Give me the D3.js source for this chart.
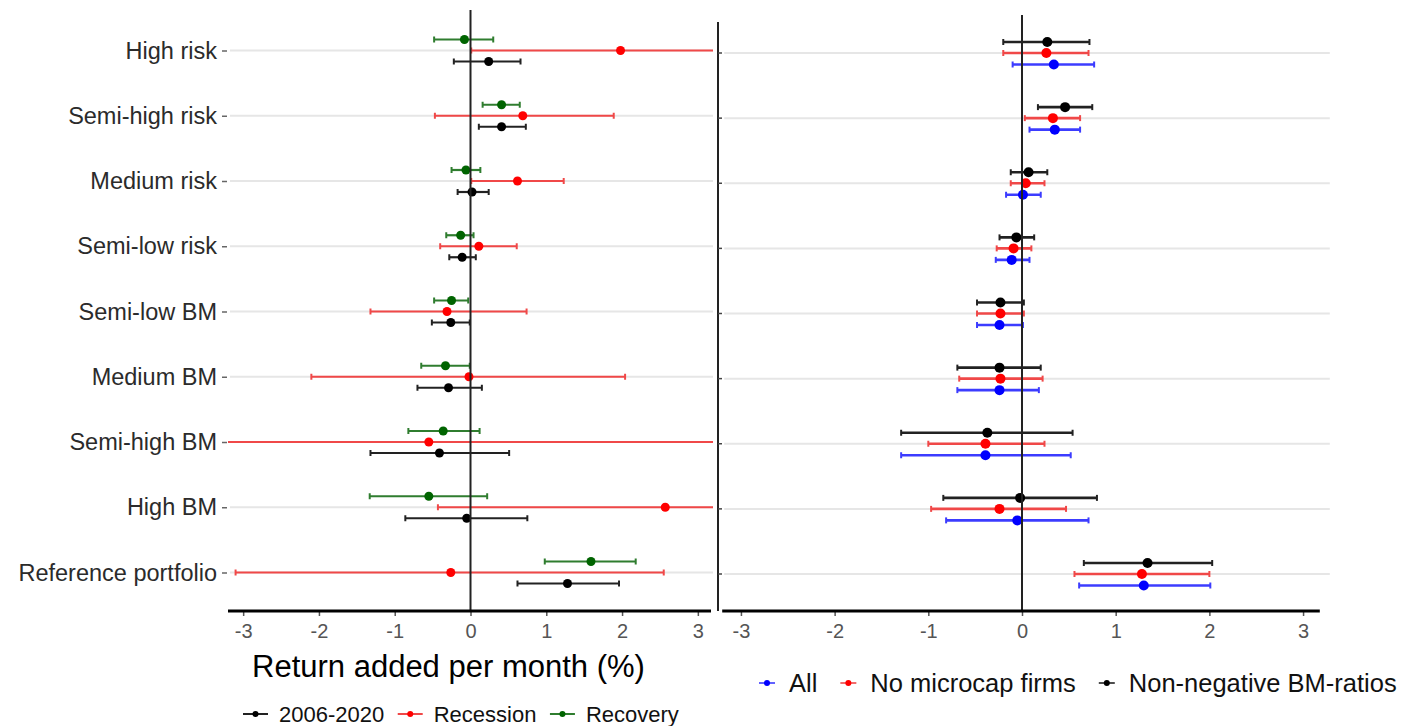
<!DOCTYPE html>
<html>
<head>
<meta charset="utf-8">
<script src="https://cdn.jsdelivr.net/npm/d3@7"></script>
<style>
  body { margin: 0; background: #fff; }
  svg { display: block; font-family: "Liberation Sans", Arial, sans-serif; }
</style>
</head>
<body>
<div id="chart"></div>
<script>
// portfolios, top to bottom
const categories = ["High risk", "Semi-high risk", "Medium risk", "Semi-low risk",
  "Semi-low BM", "Medium BM", "Semi-high BM", "High BM", "Reference portfolio"];
const ticks = [-3, -2, -1, 0, 1, 2, 3];

// left panel: periods
const fullEst = [0.24, 0.41, 0.02, -0.11, -0.26, -0.29, -0.41, -0.05, 1.28];
const fullLo  = [-0.22, 0.11, -0.17, -0.28, -0.51, -0.70, -1.32, -0.86, 0.62];
const fullHi  = [0.66, 0.73, 0.24, 0.07, -0.01, 0.15, 0.51, 0.75, 1.96];

const recEst = [1.98, 0.69, 0.62, 0.11, -0.31, -0.02, -0.55, 2.57, -0.26];
const recLo  = [0.01, -0.47, 0.01, -0.40, -1.32, -2.10, -4.40, -0.43, -3.10];
const recHi  = [3.95, 1.89, 1.23, 0.61, 0.74, 2.04, 3.30, 5.60, 2.55];

const recovEst = [-0.08, 0.41, -0.06, -0.13, -0.25, -0.33, -0.36, -0.55, 1.59];
const recovLo  = [-0.48, 0.16, -0.25, -0.32, -0.48, -0.65, -0.82, -1.33, 0.98];
const recovHi  = [0.30, 0.65, 0.13, 0.04, -0.03, -0.01, 0.12, 0.22, 2.18];

// right panel: samples
const allEst = [0.34, 0.35, 0.01, -0.11, -0.24, -0.24, -0.39, -0.05, 1.30];
const allLo  = [-0.10, 0.08, -0.17, -0.28, -0.48, -0.69, -1.29, -0.81, 0.61];
const allHi  = [0.77, 0.62, 0.20, 0.08, 0.01, 0.18, 0.52, 0.71, 2.01];

const noMicroEst = [0.26, 0.33, 0.04, -0.09, -0.23, -0.23, -0.39, -0.24, 1.28];
const noMicroLo  = [-0.20, 0.03, -0.12, -0.27, -0.48, -0.67, -1.00, -0.97, 0.56];
const noMicroHi  = [0.71, 0.62, 0.24, 0.10, 0.02, 0.22, 0.24, 0.47, 2.00];

const nonNegEst = [0.27, 0.46, 0.07, -0.06, -0.23, -0.24, -0.37, -0.02, 1.34];
const nonNegLo  = [-0.20, 0.17, -0.12, -0.24, -0.48, -0.69, -1.29, -0.84, 0.66];
const nonNegHi  = [0.72, 0.75, 0.27, 0.13, 0.02, 0.20, 0.54, 0.80, 2.03];

const leftSeries = [
  { name: "2006-2020", est: fullEst, lo: fullLo, hi: fullHi, color: "#000000", bar: "#222222", dy: 11 },
  { name: "Recession", est: recEst, lo: recLo, hi: recHi, color: "#ff0000", bar: "#f04848", dy: 0 },
  { name: "Recovery", est: recovEst, lo: recovLo, hi: recovHi, color: "#006400", bar: "#2f7d2f", dy: -11 }
];
const rightSeries = [
  { name: "All", est: allEst, lo: allLo, hi: allHi, color: "#0000ff", bar: "#3c3cff", dy: 11.5 },
  { name: "No microcap firms", est: noMicroEst, lo: noMicroLo, hi: noMicroHi, color: "#ff0000", bar: "#f04848", dy: 0 },
  { name: "Non-negative BM-ratios", est: nonNegEst, lo: nonNegLo, hi: nonNegHi, color: "#000000", bar: "#222222", dy: -11 }
];

const width = 1416, height = 726;
const svg = d3.select("#chart").append("svg").attr("width", width).attr("height", height);

function drawPanel(id, series, x, y, opts) {
  const g = svg.append("g");
  const [x0, x1] = x.range();
  const axisY = 611;

  g.append("clipPath").attr("id", id)
    .append("rect").attr("x", x0).attr("y", 0).attr("width", x1 - x0).attr("height", axisY);

  // horizontal grid
  g.selectAll(".grid").data(categories).enter().append("line")
    .attr("x1", x0 + 2).attr("x2", x1 + opts.gridExtra)
    .attr("y1", d => y(d)).attr("y2", d => y(d))
    .attr("stroke", "#e6e6e6").attr("stroke-width", 2);

  const plot = g.append("g").attr("clip-path", `url(#${id})`);

  series.forEach(s => {
    const rows = categories.map((c, i) => ({ c, est: s.est[i], lo: s.lo[i], hi: s.hi[i] }));
    const sg = plot.append("g");
    sg.selectAll(".bar").data(rows).enter().append("line")
      .attr("x1", d => x(d.lo)).attr("x2", d => x(d.hi))
      .attr("y1", d => y(d.c) + s.dy).attr("y2", d => y(d.c) + s.dy)
      .attr("stroke", s.bar).attr("stroke-width", opts.barW);
    ["lo", "hi"].forEach(k => {
      sg.selectAll(".cap-" + k).data(rows).enter().append("line")
        .attr("x1", d => x(d[k])).attr("x2", d => x(d[k]))
        .attr("y1", d => y(d.c) + s.dy - 3).attr("y2", d => y(d.c) + s.dy + 3)
        .attr("stroke", s.bar).attr("stroke-width", 2);
    });
  });

  // zero line
  g.append("line")
    .attr("x1", x(0)).attr("x2", x(0)).attr("y1", opts.zeroTop).attr("y2", axisY)
    .attr("stroke", "#222").attr("stroke-width", 2);

  series.forEach(s => {
    plot.append("g").selectAll("circle")
      .data(categories.map((c, i) => ({ c, est: s.est[i] })))
      .enter().append("circle")
      .attr("cx", d => x(d.est)).attr("cy", d => y(d.c) + s.dy)
      .attr("r", opts.r).attr("fill", s.color);
  });

  // x axis
  const ax = g.append("g").attr("transform", `translate(0,${axisY})`)
    .call(d3.axisBottom(x).tickValues(ticks).tickFormat(d => String(d)).tickSize(5).tickPadding(8));
  ax.select(".domain").remove();
  ax.selectAll(".tick line").attr("stroke", "#555").attr("stroke-width", 1.5);
  ax.selectAll(".tick text").attr("fill", "#555").attr("font-size", 20)
    .attr("font-family", "Liberation Sans, Arial, sans-serif");
  g.append("line").attr("x1", x0).attr("x2", x1 - 2).attr("y1", axisY).attr("y2", axisY)
    .attr("stroke", "#000").attr("stroke-width", 3);
  return g;
}

const xL = d3.scaleLinear().domain([-3.2, 3.2]).range([228, 713]);
const yL = d3.scalePoint().domain(categories).range([50.5, 572.5]);
const xR = d3.scaleLinear().domain([-3.2, 3.2]).range([722.2, 1321.8]);
const yR = d3.scalePoint().domain(categories).range([53, 574]);

drawPanel("clipL", leftSeries, xL, yL, { zeroTop: 10, gridExtra: 0, r: 4.5, barW: 2.2 });
drawPanel("clipR", rightSeries, xR, yR, { zeroTop: 15, gridExtra: 8, r: 5, barW: 2.6 });

// left y axis labels
const ayL = svg.append("g").attr("transform", "translate(227,0)")
  .call(d3.axisLeft(yL).tickSize(5).tickPadding(5));
ayL.select(".domain").remove();
ayL.selectAll(".tick line").attr("stroke", "#666").attr("stroke-width", 1.5);
ayL.selectAll(".tick text").attr("fill", "#2b2b2b").attr("font-size", 23.5)
  .attr("font-family", "Liberation Sans, Arial, sans-serif");

// right panel y axis line and ticks
svg.append("line").attr("x1", 718).attr("x2", 718).attr("y1", 22).attr("y2", 611)
  .attr("stroke", "#222").attr("stroke-width", 2);
svg.append("g").selectAll("line").data(categories).enter().append("line")
  .attr("x1", 718).attr("x2", 722).attr("y1", d => yR(d)).attr("y2", d => yR(d))
  .attr("stroke", "#444").attr("stroke-width", 1.5);

// title
svg.append("text").attr("x", 252).attr("y", 677)
  .attr("font-size", 31).attr("fill", "#000").text("Return added per month (%)");

// legends
function legend(series, startX, cy, opts) {
  const g = svg.append("g");
  let cx = startX;
  series.forEach(s => {
    g.append("line").attr("x1", cx - opts.half).attr("x2", cx + opts.half)
      .attr("y1", cy).attr("y2", cy).attr("stroke", s.bar).attr("stroke-width", 2).attr("opacity", opts.op);
    g.append("circle").attr("cx", cx).attr("cy", cy).attr("r", 3).attr("fill", s.color);
    const t = g.append("text").attr("x", cx + opts.toText).attr("y", cy + opts.base)
      .attr("font-size", opts.size).attr("fill", "#111").text(s.name);
    cx = cx + opts.toText + t.node().getComputedTextLength() + opts.toNext;
  });
}
legend(leftSeries, 255.5, 714, { half: 12.5, toText: 23.5, toNext: 26, size: 22, base: 8, op: 1 });
legend(rightSeries, 767, 683, { half: 8, toText: 22, toNext: 31, size: 25.5, base: 9, op: 0.8 });
</script>
</body>
</html>
